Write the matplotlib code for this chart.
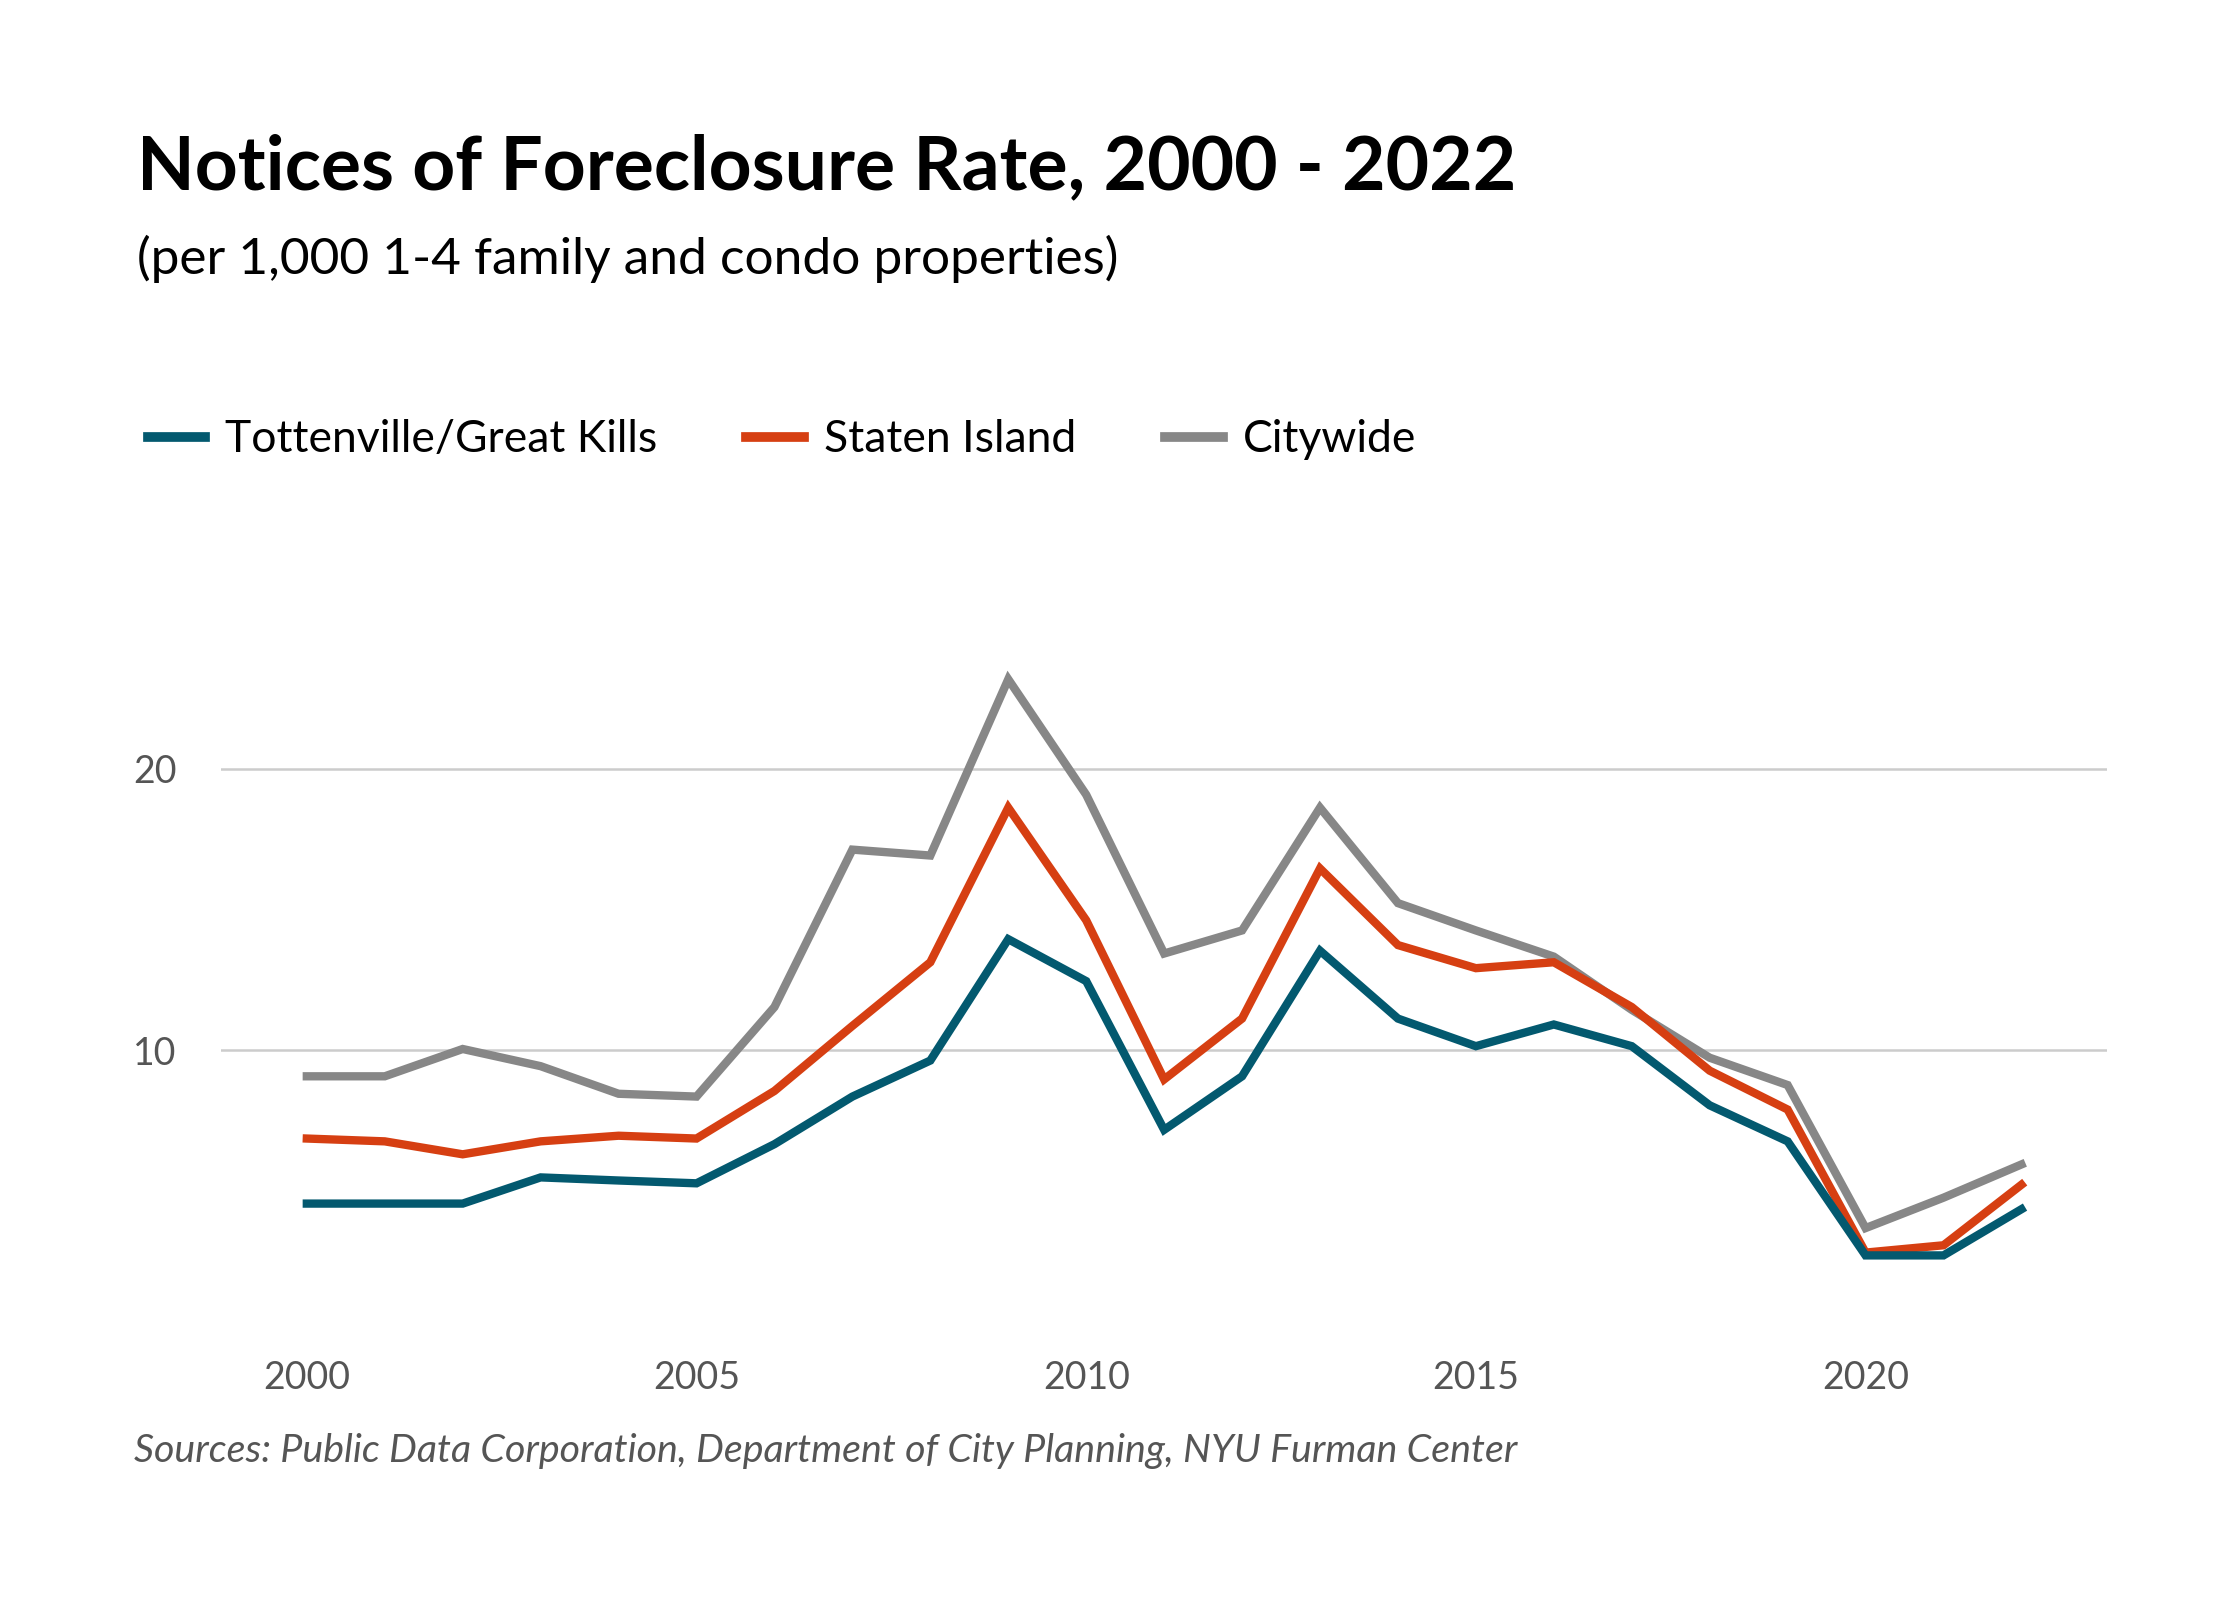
import matplotlib.pyplot as plt

# Данные графика
years = list(range(2000, 2023))
tottenville = [4.56, 4.56, 4.56, 5.49, 5.38, 5.28, 6.67, 8.36, 9.64, 13.95, 12.46, 7.18,
               9.08, 13.54, 11.13, 10.15, 10.92, 10.15, 8.05, 6.77, 2.72, 2.72, 4.36]
staten_island = [6.87, 6.77, 6.31, 6.77, 6.97, 6.87, 8.56, 10.87, 13.13, 18.62, 14.62, 8.97,
                 11.13, 16.46, 13.74, 12.92, 13.13, 11.54, 9.28, 7.90, 2.82, 3.08, 5.23]
citywide = [9.08, 9.08, 10.05, 9.44, 8.46, 8.36, 11.54, 17.13, 16.92, 23.18, 19.08, 13.44,
            14.26, 18.62, 15.23, 14.26, 13.33, 11.44, 9.74, 8.77, 3.69, 4.77, 5.95]
series_names = ['Tottenville/Great Kills', 'Staten Island', 'Citywide']
x_ticks = [2000, 2005, 2010, 2015, 2020]
y_ticks = [10, 20]

colors = ['#03596f', '#d63f12', '#878787']

plt.rcParams['font.family'] = ['Lato', 'DejaVu Sans']

fig = plt.figure(figsize=(22.4, 16), dpi=100)
ax = fig.add_axes([0.0987, 0.1675, 0.842, 0.44])

# Сначала серый, потом оранжевый, потом синий (сверху)
ax.plot(years, citywide, color=colors[2], lw=6, solid_joinstyle='miter', zorder=3)
ax.plot(years, staten_island, color=colors[1], lw=6, solid_joinstyle='miter', zorder=4)
ax.plot(years, tottenville, color=colors[0], lw=6, solid_joinstyle='miter', zorder=5)

ax.set_xlim(1998.9, 2023.1)
ax.set_ylim(0, 25)
ax.set_xticks(x_ticks)
ax.set_yticks(y_ticks)
ax.tick_params(length=0, labelsize=27, labelcolor='#555555')
ax.tick_params(axis='y', pad=32)
ax.tick_params(axis='x', pad=20)
ax.grid(True, axis='y', color='#cccccc', lw=1.8)
ax.set_axisbelow(True)
for s in ax.spines.values():
    s.set_visible(False)

# Заголовки
fig.text(0.061, 0.882, 'Notices of Foreclosure Rate, 2000 - 2022', fontsize=54,
         fontweight='bold', va='baseline', ha='left')
fig.text(0.061, 0.829, '(per 1,000 1-4 family and condo properties)', fontsize=37,
         va='baseline', ha='left')

# Легенда
handles = [plt.Line2D([], [], color=c, lw=7) for c in colors]
fig.legend(handles, series_names, loc='center left', bbox_to_anchor=(0.048, 0.725),
           ncol=3, frameon=False, fontsize=32, handlelength=1.3, handletextpad=0.45,
           columnspacing=2.0)

fig.text(0.06, 0.086, 'Sources: Public Data Corporation, Department of City Planning, NYU Furman Center',
         fontsize=28.4, style='italic', color='#555555', va='baseline', ha='left')

fig.savefig('out.png', dpi=100, facecolor='white')
